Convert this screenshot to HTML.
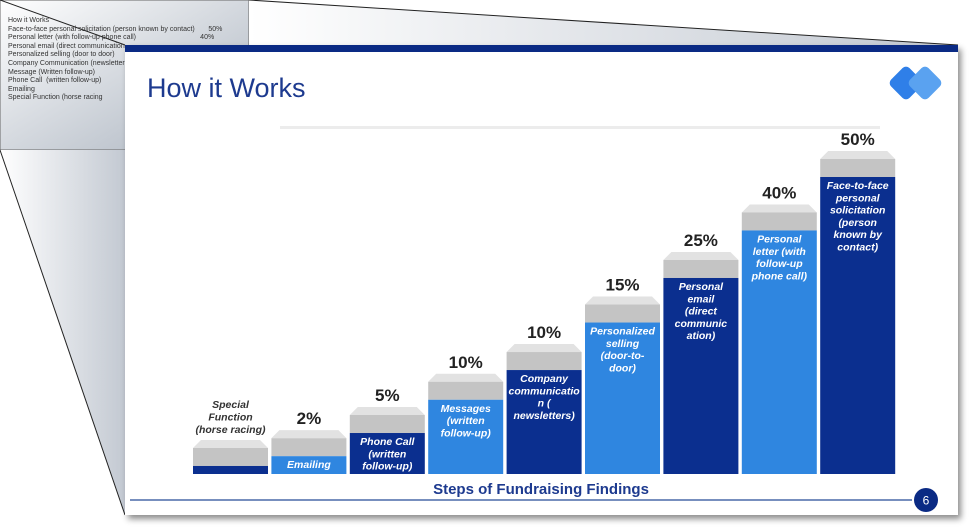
<!DOCTYPE html>
<html><head><meta charset="utf-8"><style>
body{margin:0;width:971px;height:527px;overflow:hidden;background:#fff;font-family:"Liberation Sans",Arial,sans-serif;position:relative}
#bgsvg{position:absolute;left:0;top:0}
.notes{position:absolute;left:8px;top:17px;font-size:7px;line-height:8.6px;color:#333;white-space:pre}
#slide{position:absolute;left:125px;top:45px;width:833px;height:470px;background:#fff;box-shadow:3px 4px 6px rgba(0,0,0,.45)}
</style></head><body>
<svg id="bgsvg" width="971" height="527">
<defs><linearGradient id="g1" x1="0" y1="0" x2="1" y2="1"><stop offset="0" stop-color="#fff"/><stop offset="1" stop-color="#a9b2be"/></linearGradient>
<linearGradient id="g2" x1="0" y1="0" x2="1" y2="0"><stop offset="0" stop-color="#fff"/><stop offset="1" stop-color="#c3c9d2"/></linearGradient></defs>
<rect x="0" y="0" width="249" height="150" fill="url(#g1)" stroke="#666" stroke-width="1"/>
<polygon points="0,150 125,150 125,515" fill="url(#g2)"/>
<polygon points="249,0 958,45 249,45" fill="url(#g2)"/>
<line x1="0" y1="0" x2="125" y2="45" stroke="#222" stroke-width="1"/>
<line x1="249" y1="0" x2="958" y2="45" stroke="#222" stroke-width="1"/>
<line x1="0" y1="150" x2="125" y2="515" stroke="#222" stroke-width="1"/>
</svg>
<div class="notes">How it Works
Face-to-face personal solicitation (person known by contact)       50%
Personal letter (with follow-up phone call)                                 40%
Personal email (direct communication
Personalized selling (door to door)
Company Communication (newsletter
Message (Written follow-up)
Phone Call  (written follow-up)
Emailing
Special Function (horse racing</div>
<div id="slide"></div>
<svg id="chart" width="971" height="527" style="position:absolute;left:0;top:0"></svg>
<script>
const categories=[["Special","Function","(horse racing)"],["Emailing"],["Phone Call","(written","follow-up)"],["Messages","(written","follow-up)"],["Company","communicatio","n (","newsletters)"],["Personalized","selling","(door-to-","door)"],["Personal","email","(direct","communic","ation)"],["Personal","letter (with","follow-up","phone call)"],["Face-to-face","personal","solicitation","(person","known by","contact)"]];
const valueLabels=["","2%","5%","10%","10%","15%","25%","40%","50%"];
const levels=[2.7,6,13.8,25,35,51,66,82,100];
const NS="http://www.w3.org/2000/svg";
const svg=document.getElementById('chart');
function mk(t,a,p){const e=document.createElementNS(NS,t);for(const k in a)e.setAttribute(k,a[k]);(p||svg).appendChild(e);return e;}
// slide chrome
let e=mk('rect',{x:125,y:45,width:833,height:7,fill:'#0a2a84'});

e=mk('text',{x:147,y:97,'font-size':27,fill:'#1d3a8f','font-family':'Liberation Sans'});e.textContent='How it Works';

e=mk('rect',{x:280,y:126,width:600,height:3,fill:'#ececec'});

const logo=mk('g',{});
mk('rect',{x:893,y:70,width:26,height:26,rx:5,fill:'#2f7fe8',transform:'rotate(45 906 83)'},logo);
mk('rect',{x:912,y:70,width:26,height:26,rx:5,fill:'#5aa2f0',transform:'rotate(45 925 83)'},logo);
// bars
const x0=193,step=78.4,bw=75,base=474,ph=297;
function yScale(v){return base-v/100*ph;}
levels.forEach((v,i)=>{
  const x=x0+i*step,top=yScale(v),col=i%2==0?'#0b2f8f':'#2f86e0';
  const g=mk('g',{});
  
  
  mk('polygon',{points:`${x+8},${top-26} ${x+bw-8},${top-26} ${x+bw},${top-18} ${x},${top-18}`,fill:'#e2e2e2'},g);
  mk('rect',{x:x,y:top-18,width:bw,height:18,fill:'#c4c4c4'},g);
  mk('rect',{x:x,y:top,width:bw,height:base-top,fill:col},g);
  const lines=categories[i];
  if(i==0){
    lines.forEach((l,j)=>{const t=mk('text',{x:x+bw/2,y:top-58+j*12.5,'text-anchor':'middle','font-size':10.5,'font-weight':'bold','font-style':'italic',fill:'#333'},g);t.textContent=l;});
  }else{
    lines.forEach((l,j)=>{const t=mk('text',{x:x+bw/2,y:top+12+j*12.3,'text-anchor':'middle','font-size':10.5,'font-weight':'bold','font-style':'italic',fill:'#fff'},g);t.textContent=l;});
    const t=mk('text',{x:x+bw/2,y:top-32,'text-anchor':'middle','font-size':17,'font-weight':'bold',fill:'#222'},g);t.textContent=valueLabels[i];
  }
});
e=mk('text',{x:541,y:494,'text-anchor':'middle','font-size':15,'font-weight':'bold',fill:'#1d3a8f'});e.textContent='Steps of Fundraising Findings';

e=mk('line',{x1:130,y1:500,x2:912,y2:500,stroke:'#4a6aa8','stroke-width':1.5});

e=mk('circle',{cx:926,cy:500,r:12,fill:'#0a2a84'});

e=mk('text',{x:926,y:504.5,'text-anchor':'middle','font-size':12,fill:'#fff'});e.textContent='6';

</script>
</body></html>
